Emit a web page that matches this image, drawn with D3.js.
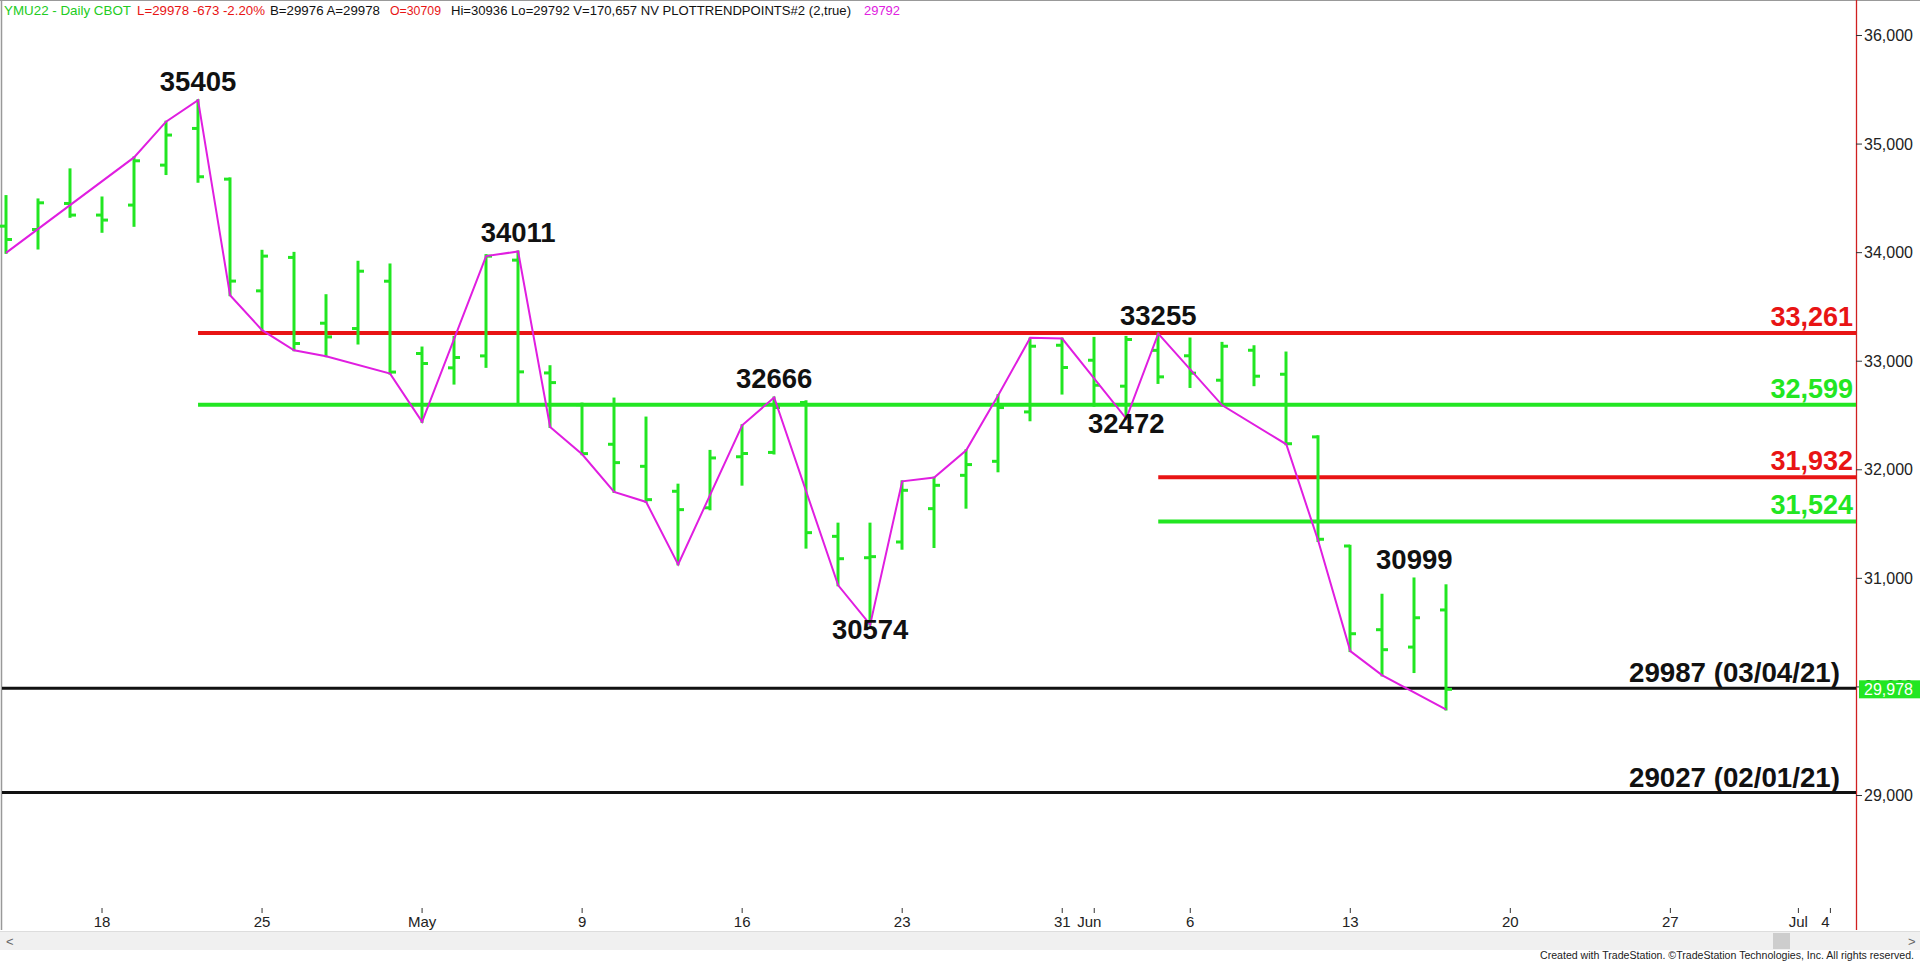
<!DOCTYPE html>
<html><head><meta charset="utf-8">
<script src="https://cdn.jsdelivr.net/npm/d3@7"></script>
<style>body{margin:0;background:#fff;overflow:hidden}svg{display:block}</style>
</head><body>
<svg id="c" width="1920" height="963"></svg>
<script>
// ---- DATA ----
const dates = [
  "2022-04-12","2022-04-13","2022-04-14","2022-04-18","2022-04-19","2022-04-20","2022-04-21","2022-04-22",
  "2022-04-25","2022-04-26","2022-04-27","2022-04-28","2022-04-29",
  "2022-05-02","2022-05-03","2022-05-04","2022-05-05","2022-05-06",
  "2022-05-09","2022-05-10","2022-05-11","2022-05-12","2022-05-13",
  "2022-05-16","2022-05-17","2022-05-18","2022-05-19","2022-05-20",
  "2022-05-23","2022-05-24","2022-05-25","2022-05-26","2022-05-27",
  "2022-05-31","2022-06-01","2022-06-02","2022-06-03",
  "2022-06-06","2022-06-07","2022-06-08","2022-06-09","2022-06-10",
  "2022-06-13","2022-06-14","2022-06-15","2022-06-16",
  // future sessions (empty space)
  "2022-06-17","2022-06-20","2022-06-21","2022-06-22","2022-06-23","2022-06-24",
  "2022-06-27","2022-06-28","2022-06-29","2022-06-30","2022-07-01","2022-07-04","2022-07-05"
];
const opens  = [34244,34213,34453,34346,34438,34806,35144,34677,33648,33956,33350,33301,33737,
                33071,32939,33049,33931,32892,32600,32235,32032,31802,31650,32120,32160,32620,31387,31190,
                31335,31642,31949,32078,32533,33147,33009,32770,33100,33050,32825,33101,32880,32303,
                31298,30527,30367,30709];
const highs  = [34521,34490,34767,34508,34877,35206,35405,34684,34017,33998,33608,33916,33891,
                33126,33224,33977,34011,32954,32610,32656,32481,31863,32174,32410,32666,32631,31504,31504,
                31894,31928,32180,32687,33209,33209,33215,33224,33255,33209,33169,33138,33080,32309,
                31300,30849,30999,30936];
const lows   = [33998,34038,34330,34192,34247,34724,34653,33608,33286,33101,33046,33163,32886,
                32441,32794,32948,32610,32395,32143,31796,31704,31129,31636,31863,32150,31283,30936,30574,
                31273,31289,31651,31986,32456,32702,32590,32472,32800,32763,32594,32779,32235,31344,
                30330,30106,30137,29792];
const closes = [34121,34459,34346,34300,34846,35083,34699,33738,33968,33163,33224,33829,32900,
                32979,33034,33968,32902,32803,32149,32066,31725,31633,32109,32150,32573,31421,31181,31200,
                31811,31857,32048,32573,33138,32942,32779,33200,32856,32890,33138,32862,32240,31360,
                30490,30343,30637,29978];

// trend points (swing line): bar index and price
const trendIdx = [0,4,5,6,7,8,9,10,12,13,15,16,17,18,19,20,21,23,24,26,27,28,29,30,31,32,33,35,36,38,40,41,42,43,45];
const trendVal = [33998,34877,35206,35405,33608,33286,33101,33046,32886,32441,33968,34011,32395,32143,31796,31704,31129,
                  32410,32666,30936,30574,31894,31928,32180,32687,33215,33209,32472,33255,32594,32235,31344,30330,30106,29792];

// labelled pivots
const pivotIdx   = [6,16,24,27,36,35,44];
const pivotVal   = [35405,34011,32666,30574,33255,32472,30999];
const pivotSide  = ["high","high","high","low","high","low","high"];

// horizontal levels
const levelVal   = [33261,32599,31932,31524,29987,29027];
const levelText  = ["33,261","32,599","31,932","31,524","29987 (03/04/21)","29027 (02/01/21)"];
const levelStart = ["2022-04-21","2022-04-21","2022-06-03","2022-06-03",null,null];
const levelKind  = ["resistance","support","resistance","support","history","history"];

// axis ticks
const priceTicks = [29000,30000,31000,32000,33000,34000,35000,36000];
const dateTickDates  = ["2022-04-18","2022-04-25","2022-05-02","2022-05-09","2022-05-16","2022-05-23","2022-05-31",
                        "2022-06-01","2022-06-06","2022-06-13","2022-06-20","2022-06-27","2022-07-01","2022-07-04"];
const dateTickLabels = ["18","25","May","9","16","23","31","Jun","6","13","20","27","Jul","4"];

const lastPrice = 29978;
const headerParts = ["YMU22 - Daily  CBOT","L=29978  -673  -2.20%","B=29976  A=29978","O=30709",
                     "Hi=30936  Lo=29792  V=170,657  NV  PLOTTRENDPOINTS#2 (2,true)","29792"];

// ---- STYLE / LAYOUT ----
const GREEN = "#22e622", RED = "#e81414", MAGENTA = "#e01ee0", BLACK = "#111";
const kindColor = {resistance: RED, support: GREEN, history: BLACK};
const FONT = "'Liberation Sans', Arial, Helvetica, sans-serif";
const plotLeft = 2, plotRight = 1856, plotBottom = 908;

const svg = d3.select("#c");
const x = d3.scaleLinear().domain([-0.125, 57.8]).range([plotLeft, plotRight]);
const y = d3.scaleLinear().domain([29000, 36000]).range([795.5, 35.5]);
const xi = d => x(dates.indexOf(d));

// borders
svg.append("line").attr("x1",0).attr("x2",1920).attr("y1",0.5).attr("y2",0.5).attr("stroke","#999");
svg.append("line").attr("x1",1.5).attr("x2",1.5).attr("y1",0).attr("y2",930).attr("stroke","#999").attr("stroke-width",1.5);
svg.append("line").attr("x1",plotRight+0.5).attr("x2",plotRight+0.5).attr("y1",0).attr("y2",930).attr("stroke","#d02020").attr("stroke-width",1.3);

// header
const hx = [4,137,270,390,451,864], hw = [127,128,110,51,400,36];
const hc = [ "#22cc22", RED, "#111", RED, "#111", "#e020e0"];
headerParts.forEach((t,k)=>{
  svg.append("text").attr("x",hx[k]).attr("y",15).attr("font-family",FONT).attr("font-size",13)
    .attr("fill",hc[k]).attr("textLength",hw[k]).attr("lengthAdjust","spacingAndGlyphs").text(t);
});

// levels
const gLev = svg.append("g");
levelVal.forEach((v,k)=>{
  const x1 = levelStart[k] ? xi(levelStart[k]) : plotLeft;
  const col = kindColor[levelKind[k]];
  const hist = levelKind[k]==="history";
  gLev.append("line").attr("x1",x1).attr("x2",plotRight).attr("y1",y(v)).attr("y2",y(v))
    .attr("stroke",col).attr("stroke-width",hist?3:4);
  const t = gLev.append("text").attr("x", hist ? 1840 : 1853).attr("y", y(v) - (hist?6:7))
    .attr("text-anchor","end").attr("font-family",FONT).attr("font-weight","bold").attr("font-size",27)
    .attr("fill",col).text(levelText[k]);
  if (hist) t.attr("textLength",211).attr("lengthAdjust","spacingAndGlyphs");
});

// bars
const gBars = svg.append("g").attr("stroke",GREEN).attr("stroke-width",3);
opens.forEach((o,i)=>{
  const cx = Math.round(x(i));
  gBars.append("line").attr("x1",cx).attr("x2",cx).attr("y1",y(highs[i])-1).attr("y2",y(lows[i])+1);
  gBars.append("line").attr("x1",cx-6).attr("x2",cx).attr("y1",y(o)).attr("y2",y(o));
  gBars.append("line").attr("x1",cx).attr("x2",cx+6).attr("y1",y(closes[i])).attr("y2",y(closes[i]));
});

// trend line
const line = d3.line().x(d=>x(d[0])).y(d=>y(d[1]));
svg.append("path").datum(trendIdx.map((t,k)=>[t,trendVal[k]])).attr("d",line)
  .attr("fill","none").attr("stroke",MAGENTA).attr("stroke-width",2);

// pivot labels
pivotIdx.forEach((p,k)=>{
  const py = y(pivotVal[k]);
  svg.append("text").attr("x",x(p)).attr("y", pivotSide[k]==="high" ? py-9 : py+14)
    .attr("text-anchor","middle").attr("font-family",FONT).attr("font-weight","bold").attr("font-size",27.5)
    .attr("fill","#111").text(pivotVal[k]);
});

// price axis
const gY = svg.append("g");
priceTicks.forEach(v=>{
  gY.append("line").attr("x1",plotRight).attr("x2",plotRight+6).attr("y1",y(v)).attr("y2",y(v)).attr("stroke","#333");
  gY.append("text").attr("x",plotRight+8).attr("y",y(v)).attr("dominant-baseline","central")
    .attr("font-family",FONT).attr("font-size",16).attr("fill","#222").text(d3.format(",")(v));
});
// last price marker
svg.append("rect").attr("x",plotRight+3).attr("y",y(lastPrice)-9).attr("width",1920-plotRight-3).attr("height",18).attr("fill",GREEN);
svg.append("text").attr("x",plotRight+8).attr("y",y(lastPrice)).attr("dominant-baseline","central")
  .attr("font-family",FONT).attr("font-size",16).attr("fill","#fff").text(d3.format(",")(lastPrice));

// date axis
const gX = svg.append("g");
dateTickDates.forEach((d,k)=>{
  const tx = xi(d);
  const prev = k>0 ? dates.indexOf(dateTickDates[k-1]) : -10;
  const crowded = dates.indexOf(d) - prev === 1;
  gX.append("line").attr("x1",tx).attr("x2",tx).attr("y1",plotBottom).attr("y2",plotBottom+5).attr("stroke","#333");
  gX.append("text").attr("x",tx + (crowded ? -5 : 0)).attr("y",927).attr("text-anchor","middle")
    .attr("font-family",FONT).attr("font-size",15).attr("fill","#222").text(dateTickLabels[k]);
});

// scrollbar
svg.append("rect").attr("x",0).attr("y",932).attr("width",1920).attr("height",18).attr("fill","#f0f0f0");
svg.append("line").attr("x1",0).attr("x2",1920).attr("y1",931.5).attr("y2",931.5).attr("stroke","#ddd");
svg.append("rect").attr("x",1773).attr("y",933).attr("width",17).attr("height",16).attr("fill","#cdcdcd");
svg.append("text").attr("x",6).attr("y",946).attr("font-family",FONT).attr("font-size",13).attr("fill","#666").text("<");
svg.append("text").attr("x",1908).attr("y",946).attr("font-family",FONT).attr("font-size",13).attr("fill","#666").text(">");
// footer
svg.append("text").attr("x",1540).attr("y",959).attr("font-family",FONT).attr("font-size",10).attr("fill","#222")
  .attr("textLength",374).attr("lengthAdjust","spacingAndGlyphs")
  .text("Created with TradeStation. \u00A9TradeStation Technologies, Inc. All rights reserved.");
</script>
</body></html>
